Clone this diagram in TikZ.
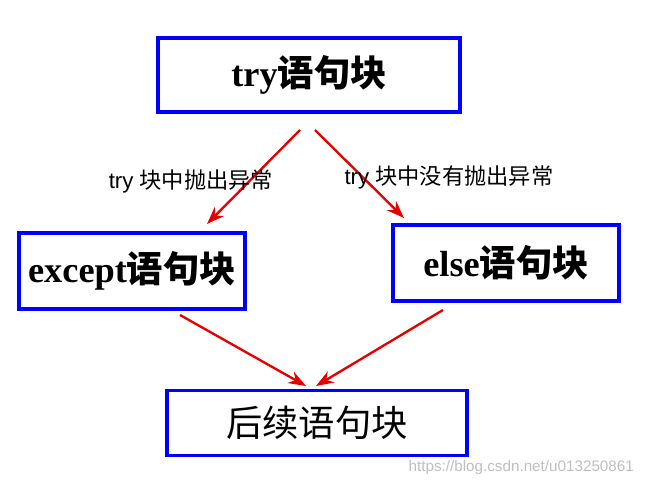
\documentclass[tikz,border=0pt]{standalone}
\usepackage{fontspec}
\setmainfont{Liberation Serif}
\newfontfamily\cjk{Noto Sans CJK SC}
\newfontfamily\lab{Liberation Sans}
\usetikzlibrary{arrows.meta,positioning}
\definecolor{boxblue}{RGB}{0,0,255}
\definecolor{arrred}{RGB}{230,0,0}
\tikzset{
  block/.style={draw=boxblue,line width=3.4pt,minimum width=#1,inner sep=0pt},
  arrow/.style={draw=arrred,line width=2pt,-{Stealth[length=15pt,width=11pt]}},
  lbl/.style={font=\lab\fontsize{19}{22}\selectfont}
}
\begin{document}
\begin{tikzpicture}[x=0.03cm,y=-0.03cm]
    \useasboundingbox (0,0) rectangle (646,487);
    \node[block=9.05cm,minimum height=2.2cm] (try) at (309,75) {\fontsize{31}{36}\selectfont\textbf{try}\cjk\bfseries 语句块};
    \node[block=6.8cm,minimum height=2.3cm] (exc) at (132,271) {\fontsize{31}{36}\selectfont\textbf{except}\cjk\bfseries 语句块};
    \node[block=6.8cm,minimum height=2.3cm] (els) at (506,263) {\fontsize{31}{36}\selectfont\textbf{else}\cjk\bfseries 语句块};
    \node[block=9.0cm,minimum height=1.95cm] (fin) at (317,423) {\cjk\fontsize{31}{36}\selectfont 后续语句块};

    \coordinate (t1) at (300,130);
    \coordinate (t2) at (315,130);
    \coordinate (e1) at (207,224);
    \coordinate (e2) at (404,218);
    \coordinate (b1) at (180,315);
    \coordinate (b2) at (443,310);
    \coordinate (f1) at (306,386);
    \coordinate (f2) at (316,386);

    \draw[arrow] (t1) -- (e1);
    \draw[arrow] (t2) -- (e2);
    \draw[arrow] (b1) -- (f1);
    \draw[arrow] (b2) -- (f2);

    \node[lbl] (l1) at (191,181) {try {\cjk 块中抛出异常}};
    \node[lbl] (l2) at (449,177) {try {\cjk 块中没有抛出异常}};
    \node[anchor=east,text=black!25,font=\lab\fontsize{13}{15}\selectfont] (wm) at (638,468) {https://blog.csdn.net/u013250861};
\end{tikzpicture}
\end{document}
